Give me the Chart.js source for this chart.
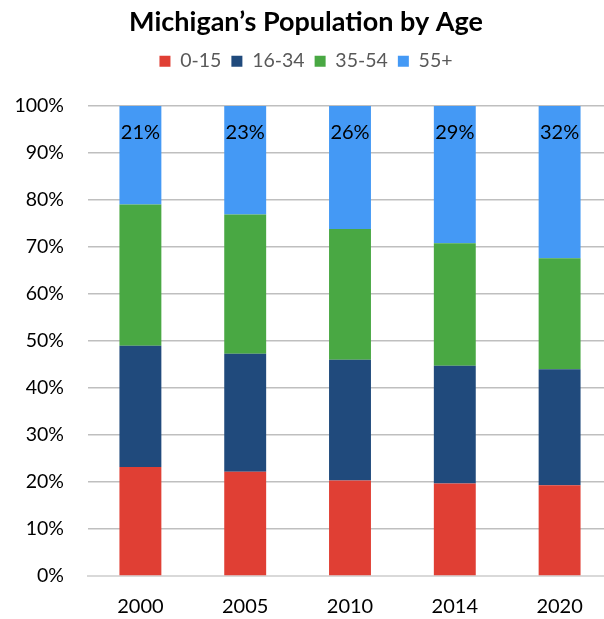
<!DOCTYPE html>
<html lang="en">
<head>
    <meta charset="UTF-8">
    <title>Michigan's Population by Age</title>
    <style>
        html, body { margin: 0; padding: 0; background: #fff; overflow: hidden; }
    </style>
</head>
<body>
    <canvas id="ageChart" width="630" height="619"></canvas>
    <script src="https://cdn.jsdelivr.net/npm/chart.js"></script>
    <script>
        // data (percent of population)
        const years = ['2000', '2005', '2010', '2014', '2020'];
        const age0to15 = [23.2, 22.2, 20.3, 19.7, 19.3];
        const age16to34 = [25.8, 25.1, 25.7, 25.0, 24.7];
        const age35to54 = [30.0, 29.6, 27.8, 26.1, 23.6];
        const age55plus = [21.0, 23.1, 26.2, 29.2, 32.4];
        const yTicks = [0, 10, 20, 30, 40, 50, 60, 70, 80, 90, 100];

        const fontFamily = 'Lato, "Open Sans", sans-serif';

        // labels like "21%" near the top of the 55+ segment
        const topLabels = {
            id: 'topLabels',
            afterDatasetsDraw(chart) {
                const ctx = chart.ctx;
                const meta = chart.getDatasetMeta(3);
                ctx.save();
                ctx.font = '20px ' + fontFamily;
                ctx.fillStyle = '#000';
                ctx.textAlign = 'center';
                ctx.textBaseline = 'middle';
                meta.data.forEach((bar, i) => {
                    ctx.fillText(Math.round(age55plus[i]) + '%', bar.x, bar.y + 27);
                });
                ctx.restore();
            }
        };

        // extra room between legend and plot
        const legendGap = {
            id: 'legendGap',
            beforeInit(chart) {
                const fit = chart.legend.fit;
                chart.legend.fit = function () {
                    fit.bind(chart.legend)();
                    this.height += 25;
                };
            }
        };

        const ctx = document.getElementById('ageChart').getContext('2d');
        new Chart(ctx, {
            type: 'bar',
            data: {
                labels: years,
                datasets: [
                    { label: '0-15', data: age0to15, backgroundColor: '#E03F34' },
                    { label: '16-34', data: age16to34, backgroundColor: '#204A7C' },
                    { label: '35-54', data: age35to54, backgroundColor: '#49A843' },
                    { label: '55+', data: age55plus, backgroundColor: '#4499F5' }
                ]
            },
            options: {
                responsive: false,
                animation: false,
                layout: { padding: { top: 6, left: 0, right: 18, bottom: 0 } },
                datasets: {
                    bar: { categoryPercentage: 0.4, barPercentage: 1 }
                },
                plugins: {
                    title: {
                        display: true,
                        text: 'Michigan’s Population by Age',
                        color: '#000',
                        font: { family: fontFamily, size: 27, weight: 'bold' },
                        padding: { top: 0, bottom: 3 }
                    },
                    legend: {
                        labels: {
                            boxWidth: 11,
                            boxHeight: 11,
                            color: '#595959',
                            font: { family: fontFamily, size: 19.5 },
                            padding: 10
                        }
                    },
                    tooltip: { enabled: false }
                },
                scales: {
                    x: {
                        stacked: true,
                        afterFit(axis) {
                            axis.height = 43;
                        },
                        grid: { display: false },
                        border: { color: '#D9D9D9', width: 2 },
                        ticks: {
                            color: '#000',
                            font: { family: fontFamily, size: 20 },
                            padding: 11
                        }
                    },
                    y: {
                        stacked: true,
                        min: 0,
                        max: 100,
                        afterBuildTicks(axis) {
                            axis.ticks = yTicks.map(v => ({ value: v }));
                        },
                        afterFit(axis) {
                            axis.width = 88;
                        },
                        grid: { color: '#BFBFBF', lineWidth: 1.5, drawTicks: false },
                        border: { display: false },
                        ticks: {
                            color: '#000',
                            font: { family: fontFamily, size: 19.5 },
                            padding: 24,
                            callback: v => v + '%'
                        }
                    }
                }
            },
            plugins: [topLabels, legendGap]
        });
    </script>
</body>
</html>
